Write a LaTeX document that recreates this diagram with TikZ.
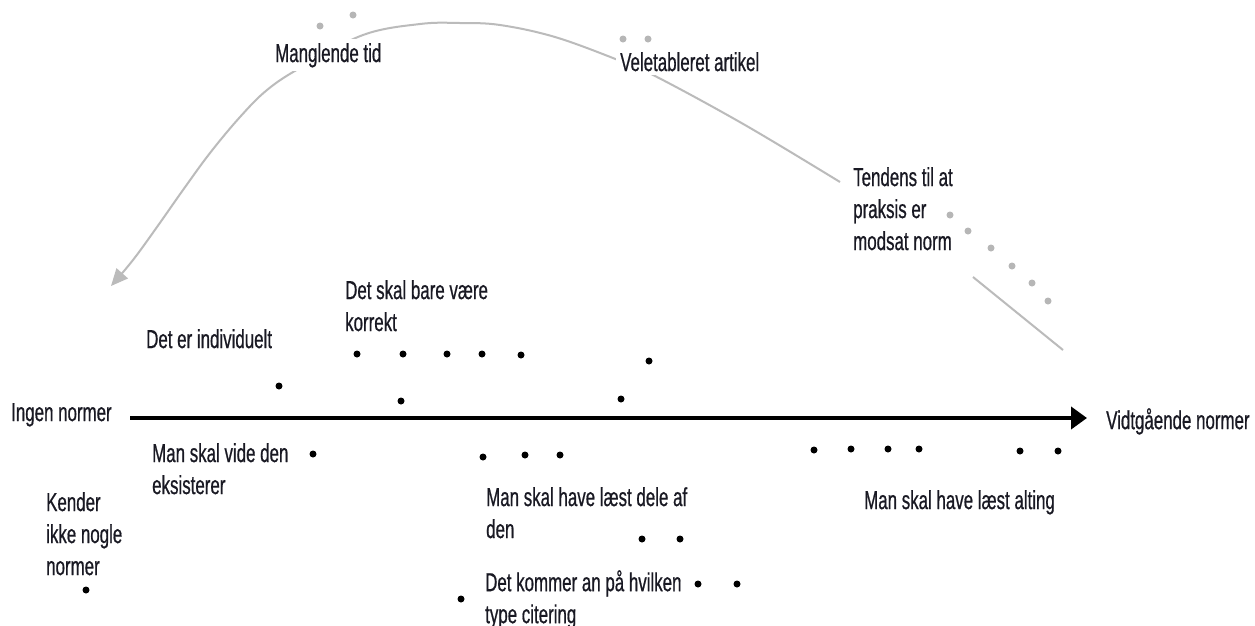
\documentclass[tikz,border=0pt]{standalone}
\usepackage{fontspec}
\setmainfont{Liberation Sans}[FakeStretch=0.65,FakeBold=0.6]
\usetikzlibrary{arrows.meta}
\definecolor{curvegray}{RGB}{187,187,187}
\definecolor{dotgray}{RGB}{182,182,182}
\definecolor{txt}{RGB}{25,25,35}
\begin{document}
\begin{tikzpicture}[x=1pt,y=-1pt,
  lbl/.style={inner sep=0pt, anchor=north west, align=left, text=txt,
    font=\fontsize{26}{32}\selectfont},
  mask/.style={lbl, fill=white, inner sep=4pt},
  bdot/.style={circle, fill=black, inner sep=0pt, minimum size=7pt},
  gdot/.style={circle, fill=dotgray, inner sep=0pt, minimum size=7pt},
  gline/.style={draw=curvegray, line width=2pt},
]
\useasboundingbox[fill=white] (0,0) rectangle (1255,625);

% grey curve
\coordinate (cA1) at (1063,350);
\coordinate (cA2) at (973,277);
\draw[gline] (cA1) -- (cA2);
\draw[gline, -{Triangle[length=17pt,width=15pt]}] plot[smooth, tension=0.6] coordinates
  {(840,182) (745,125) (657,77) (618,60) (555,37) (500,25) (460,23) (420,24) (363,35) (300,68) (267,90) (240,117) (210,153) (183,190) (157,227) (133,260) (111,286)};

% labels on the curve
\node[mask] (mangl) at (271,39) {Manglende tid};
\node[mask] (velet) at (616,48) {Veletableret artikel};
\node[lbl] (tend) at (853,167) {Tendens til at\\praksis er\\modsat norm};

% grey dots
\foreach \p [count=\i] in {(320,26),(353,15),(623,39),(648,39),(950,215),(968,231),(991,248),(1012,266),(1032,283),(1048,301)}
  \node[gdot] (g\i) at \p {};

% axis
\coordinate (axL) at (130,418);
\coordinate (axR) at (1087,418);
\draw[line width=4.5pt, -{Triangle[length=16pt,width=22pt]}] (axL) -- (axR);
\node[lbl] (ingen) at (11,403) {Ingen normer};
\node[lbl] (vidt) at (1106,408) {Vidtgående normer};

% other labels
\node[lbl] (indiv) at (146,329) {Det er individuelt};
\node[lbl] (bare) at (345,280) {Det skal bare være\\korrekt};
\node[lbl] (vide) at (152,443) {Man skal vide den\\eksisterer};
\node[lbl] (kender) at (46,492) {Kender\\ikke nogle\\normer};
\node[lbl] (dele) at (486,487) {Man skal have læst dele af\\den};
\node[lbl] (kommer) at (485,570) {Det kommer an på hvilken\\type citering};
\node[lbl] (alting) at (864,490) {Man skal have læst alting};

% black dots
\foreach \p [count=\i] in {(279,386),(357,354),(403,354),(447,354),(482,354),(521,355),(649,361),(401,401),(621,399),(313,454),(483,457),(525,455),(560,455),(814,450),(851,449),(888,449),(919,449),(1020,451),(1058,451),(642,539),(680,539),(698,584),(737,584),(461,599),(86,590)}
  \node[bdot] (b\i) at \p {};
\end{tikzpicture}
\end{document}
